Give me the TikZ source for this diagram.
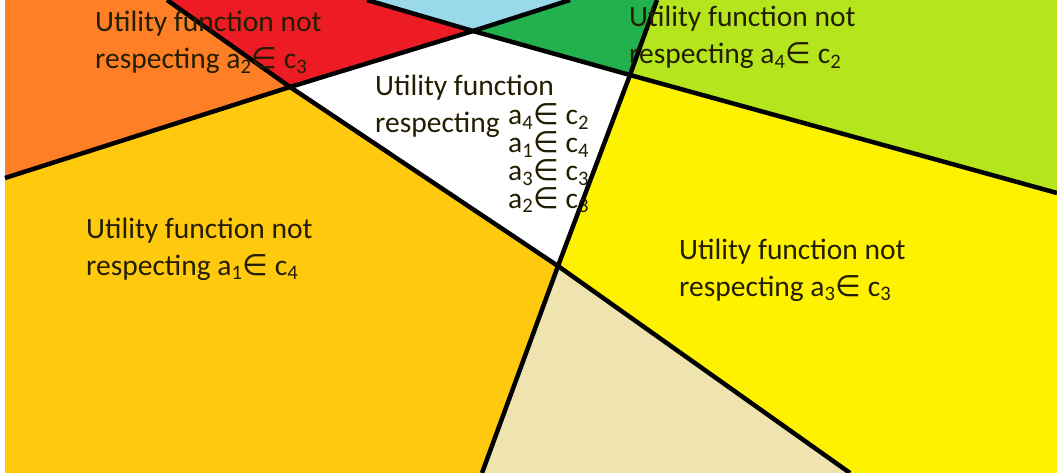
\documentclass[tikz,border=0pt]{standalone}
\usepackage{fontspec}
\setmainfont{Carlito}
\newfontfamily\symfont{DejaVu Sans}
\usetikzlibrary{positioning}

\definecolor{orangepart}{HTML}{FF7F27}
\definecolor{redpart}{HTML}{ED1C24}
\definecolor{bluepart}{HTML}{99D9EA}
\definecolor{greenpart}{HTML}{22B14C}
\definecolor{limepart}{HTML}{B5E61D}
\definecolor{yellowpart}{HTML}{FFF200}
\definecolor{goldpart}{HTML}{FFC90E}
\definecolor{tanpart}{HTML}{EFE4B0}
\definecolor{labeltext}{RGB}{35,30,0}

\newcommand{\inset}[2]{a\textsubscript{#1}{\symfont ∈} c\textsubscript{#2}}
\newcommand{\tightlines}{\fontsize{29.5}{27.7}\selectfont\lineskiplimit -50pt\relax}

\begin{document}
\begin{tikzpicture}[x=1pt,y=-1pt,
    cut/.style={draw=black,line width=4.5pt,line join=round},
    label node/.style={anchor=base west,inner sep=0pt,align=left,text=labeltext,
                       font=\fontsize{29.5}{37}\selectfont}]

  \useasboundingbox (0,0) rectangle (1057,473);
  \fill[white] (0,0) rectangle (1057,473);

  % crossing points
  \coordinate (p) at (290,87);
  \coordinate (q) at (473,31);
  \coordinate (r) at (630,75);
  \coordinate (s) at (558,266);
  % ends of the four lines
  \coordinate (a1) at (167,0);  \coordinate (a2) at (850,473);
  \coordinate (b1) at (5,178);  \coordinate (b2) at (570,0);
  \coordinate (c1) at (367,0);  \coordinate (c2) at (1057,193);
  \coordinate (d1) at (657,0);  \coordinate (d2) at (482,473);

  % regions
  \fill[orangepart] (5,0) -- (a1) -- (p) -- (b1) -- cycle;
  \fill[redpart] (a1) -- (c1) -- (q) -- (p) -- cycle;
  \fill[bluepart] (c1) -- (b2) -- (q) -- cycle;
  \fill[greenpart] (b2) -- (d1) -- (r) -- (q) -- cycle;
  \fill[limepart] (d1) -- (1057,0) -- (c2) -- (r) -- cycle;
  \fill[white] (p) -- (q) -- (r) -- (s) -- cycle;
  \fill[yellowpart] (r) -- (c2) -- (1057,473) -- (a2) -- (s) -- cycle;
  \fill[tanpart] (s) -- (a2) -- (d2) -- cycle;
  \fill[goldpart] (b1) -- (p) -- (s) -- (d2) -- (5,473) -- cycle;

  % the four cuts
  \path[cut] (a1) -- (p) -- (s) -- (a2);
  \path[cut] (b1) -- (p) -- (q) -- (b2);
  \path[cut] (c1) -- (q) -- (r) -- (c2);
  \path[cut] (d1) -- (r) -- (s) -- (d2);

  % labels (anchored on the baseline of their last line)
  \node[label node] (1) at (95,69) {Utility function not\\respecting \inset{2}{3}};
  \node[label node] (2) at (629,64) {Utility function not\\respecting \inset{4}{2}};
  \node[label node] (3) at (375,133) {Utility function\\respecting};
  \node[label node,font=\tightlines] (4) at (508,208)
    {\inset{4}{2}\\\inset{1}{4}\\\inset{3}{3}\\\inset{2}{3}};
  \node[label node] (5) at (86,275) {Utility function not\\respecting \inset{1}{4}};
  \node[label node] (6) at (679,296) {Utility function not\\respecting \inset{3}{3}};
\end{tikzpicture}
\end{document}
